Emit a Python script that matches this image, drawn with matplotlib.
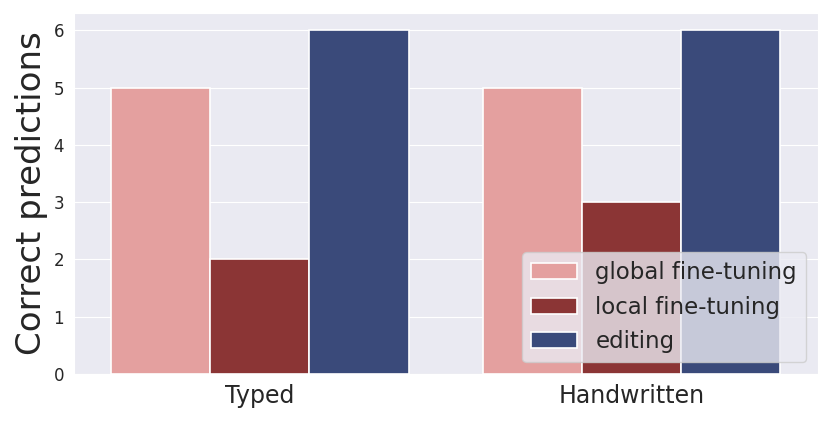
import matplotlib
matplotlib.use("Agg")
import matplotlib.pyplot as plt
import numpy as np
import seaborn as sns

sns.set_style("darkgrid")

categories = ["Typed", "Handwritten"]
methods = ["global fine-tuning", "local fine-tuning", "editing"]
global_ft = [5, 5]
local_ft = [2, 3]
editing = [6, 6]
colors = ["#e4a09f", "#8b3535", "#3a4a7a"]

fig, ax = plt.subplots(figsize=(8.3, 4.21), dpi=100)
x = np.arange(len(categories))
width = 0.8 / 3
for i, (name, vals) in enumerate(zip(methods, [global_ft, local_ft, editing])):
    ax.bar(x + (i - 1) * width, vals, width, color=colors[i], label=name,
           edgecolor="white", linewidth=1.2)

ax.set_xlim(-0.5, 1.5)
ax.set_ylim(0, 6.3)
ax.set_xticks(x)
ax.set_xticklabels(categories, fontsize=17)
ax.xaxis.grid(False)
ax.tick_params(axis="y", labelsize=12)
ax.set_ylabel("Correct predictions", fontsize=24.5)
ax.legend(loc="lower right", fontsize=16.5)

fig.subplots_adjust(left=0.089, right=0.985, top=0.969, bottom=0.112)
fig.savefig("out.png")
